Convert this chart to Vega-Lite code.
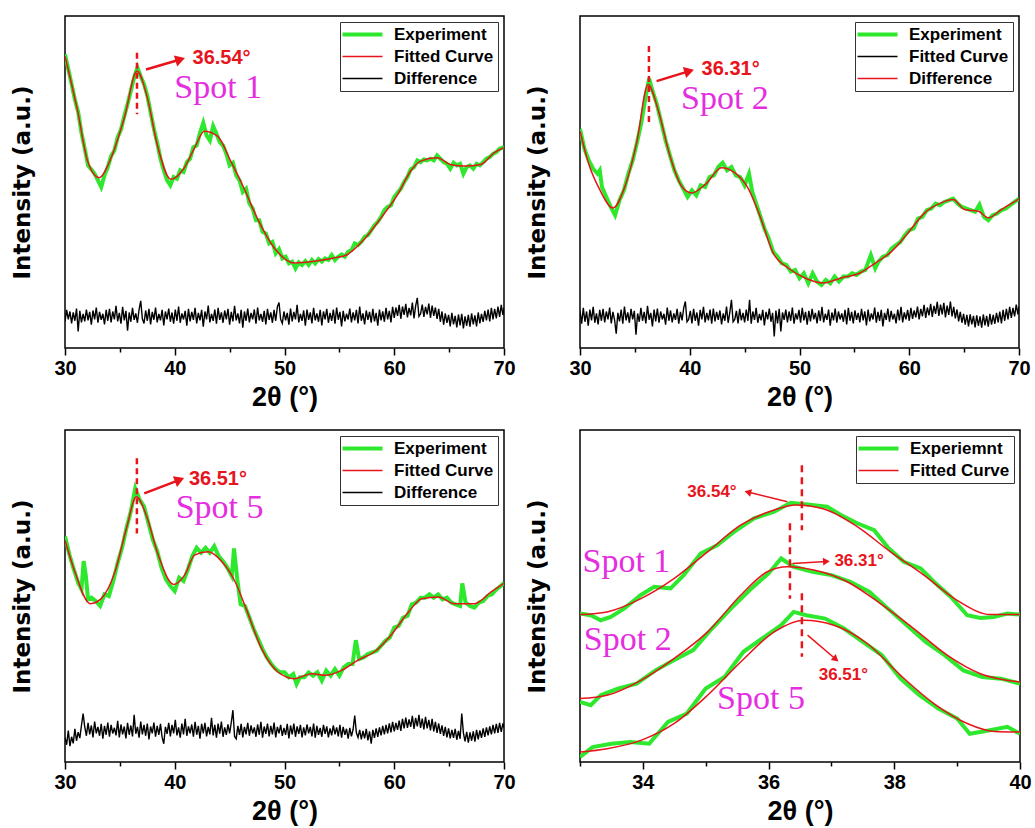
{
"$schema": "https://vega.github.io/schema/vega-lite/v6.json",
"padding": {"left": 10, "top": 15, "right": 2, "bottom": 5},
"background": "white",
"columns": 2,
"spacing": {"row": 18, "column": 9},
"resolve": {"scale": {"color": "independent", "x": "independent", "y": "independent"}, "legend": {"color": "independent"}},
"datasets": {
"g1": [{"x":30.0,"y":88.5},{"x":30.3,"y":84.0},{"x":30.6,"y":79.5},{"x":30.9,"y":74.8},{"x":31.2,"y":71.0},{"x":31.5,"y":64.8},{"x":31.8,"y":60.0},{"x":32.1,"y":55.0},{"x":32.4,"y":53.8},{"x":32.7,"y":52.5},{"x":33.0,"y":50.5},{"x":33.3,"y":48.5},{"x":33.6,"y":52.0},{"x":33.9,"y":54.5},{"x":34.2,"y":57.8},{"x":34.5,"y":59.5},{"x":34.8,"y":63.5},{"x":35.1,"y":65.8},{"x":35.4,"y":69.8},{"x":35.7,"y":73.5},{"x":36.0,"y":77.5},{"x":36.3,"y":81.5},{"x":36.6,"y":84.5},{"x":36.9,"y":81.8},{"x":37.2,"y":79.5},{"x":37.5,"y":76.0},{"x":37.8,"y":71.0},{"x":38.1,"y":66.0},{"x":38.4,"y":61.8},{"x":38.7,"y":57.0},{"x":39.0,"y":53.5},{"x":39.3,"y":50.5},{"x":39.6,"y":49.0},{"x":39.9,"y":51.5},{"x":40.2,"y":51.0},{"x":40.5,"y":53.5},{"x":40.8,"y":53.0},{"x":41.1,"y":56.0},{"x":41.4,"y":57.0},{"x":41.7,"y":60.5},{"x":42.0,"y":61.0},{"x":42.3,"y":64.8},{"x":42.6,"y":67.8},{"x":42.9,"y":64.0},{"x":43.2,"y":62.5},{"x":43.5,"y":66.8},{"x":43.8,"y":64.5},{"x":44.1,"y":62.0},{"x":44.4,"y":61.0},{"x":44.7,"y":58.5},{"x":45.0,"y":55.0},{"x":45.3,"y":55.8},{"x":45.6,"y":52.0},{"x":45.9,"y":50.5},{"x":46.2,"y":47.0},{"x":46.5,"y":48.0},{"x":46.8,"y":43.5},{"x":47.1,"y":42.0},{"x":47.4,"y":38.5},{"x":47.7,"y":38.5},{"x":48.0,"y":35.0},{"x":48.3,"y":34.5},{"x":48.6,"y":31.5},{"x":48.9,"y":32.0},{"x":49.2,"y":28.5},{"x":49.5,"y":29.8},{"x":49.8,"y":27.0},{"x":50.1,"y":27.5},{"x":50.4,"y":25.5},{"x":50.7,"y":26.0},{"x":51.0,"y":24.0},{"x":51.3,"y":25.8},{"x":51.6,"y":25.0},{"x":51.9,"y":26.2},{"x":52.2,"y":25.0},{"x":52.5,"y":26.5},{"x":52.8,"y":25.5},{"x":53.1,"y":26.8},{"x":53.4,"y":26.0},{"x":53.7,"y":27.0},{"x":54.0,"y":26.5},{"x":54.3,"y":28.0},{"x":54.6,"y":26.5},{"x":54.9,"y":27.5},{"x":55.2,"y":28.2},{"x":55.5,"y":27.5},{"x":55.8,"y":29.0},{"x":56.1,"y":29.5},{"x":56.4,"y":31.5},{"x":56.7,"y":31.0},{"x":57.0,"y":32.0},{"x":57.3,"y":33.5},{"x":57.6,"y":34.0},{"x":57.9,"y":35.5},{"x":58.2,"y":37.0},{"x":58.5,"y":38.0},{"x":58.8,"y":39.5},{"x":59.1,"y":41.5},{"x":59.4,"y":42.5},{"x":59.7,"y":43.0},{"x":60.0,"y":45.5},{"x":60.3,"y":46.8},{"x":60.6,"y":48.0},{"x":60.9,"y":50.0},{"x":61.2,"y":51.5},{"x":61.5,"y":53.8},{"x":61.8,"y":54.5},{"x":62.1,"y":56.5},{"x":62.4,"y":56.0},{"x":62.7,"y":56.8},{"x":63.0,"y":56.5},{"x":63.3,"y":57.0},{"x":63.6,"y":56.5},{"x":63.9,"y":58.0},{"x":64.2,"y":57.0},{"x":64.5,"y":56.0},{"x":64.8,"y":55.5},{"x":65.1,"y":54.0},{"x":65.4,"y":55.8},{"x":65.7,"y":55.0},{"x":66.0,"y":55.5},{"x":66.3,"y":52.5},{"x":66.6,"y":54.5},{"x":66.9,"y":55.0},{"x":67.2,"y":54.0},{"x":67.5,"y":55.5},{"x":67.8,"y":55.0},{"x":68.1,"y":56.0},{"x":68.4,"y":57.0},{"x":68.7,"y":57.5},{"x":69.0,"y":58.5},{"x":69.3,"y":59.0},{"x":69.6,"y":60.0},{"x":70.0,"y":60.5}],
"f1": [{"x":30,"y":87.9},{"x":31.15,"y":71.4},{"x":32.06,"y":56.3},{"x":33.1,"y":51.3},{"x":34.2,"y":57.3},{"x":35.4,"y":69.3},{"x":36.56,"y":83.4},{"x":37.5,"y":75.4},{"x":38.4,"y":61.3},{"x":39.65,"y":50.8},{"x":40.87,"y":54.3},{"x":41.8,"y":60.3},{"x":42.7,"y":65.3},{"x":43.9,"y":63.8},{"x":45.1,"y":56.3},{"x":46.3,"y":48.2},{"x":47.5,"y":39.2},{"x":49.06,"y":30.2},{"x":50.9,"y":25.6},{"x":52.7,"y":26.1},{"x":54.5,"y":27.1},{"x":55.7,"y":28.1},{"x":57.25,"y":32.7},{"x":58.8,"y":39.2},{"x":60.3,"y":46.2},{"x":61.5,"y":53.3},{"x":62.4,"y":56.3},{"x":63.9,"y":57.3},{"x":65.1,"y":55.3},{"x":66.4,"y":54.8},{"x":67.9,"y":55.3},{"x":69.1,"y":58.8},{"x":70,"y":60.3}],
"d1": [{"x":30.00,"y":8.0},{"x":30.15,"y":11.5},{"x":30.30,"y":8.6},{"x":30.45,"y":11.0},{"x":30.60,"y":7.4},{"x":30.75,"y":10.7},{"x":30.90,"y":8.2},{"x":31.05,"y":11.9},{"x":31.20,"y":5.0},{"x":31.35,"y":11.2},{"x":31.50,"y":7.7},{"x":31.65,"y":10.3},{"x":31.80,"y":8.0},{"x":31.95,"y":11.6},{"x":32.10,"y":8.3},{"x":32.25,"y":10.9},{"x":32.40,"y":7.0},{"x":32.55,"y":11.3},{"x":32.70,"y":8.6},{"x":32.85,"y":12.2},{"x":33.00,"y":7.6},{"x":33.15,"y":10.9},{"x":33.30,"y":8.5},{"x":33.45,"y":10.3},{"x":33.60,"y":7.1},{"x":33.75,"y":11.5},{"x":33.90,"y":8.2},{"x":34.05,"y":11.8},{"x":34.20,"y":7.7},{"x":34.35,"y":11.0},{"x":34.50,"y":8.6},{"x":34.65,"y":12.7},{"x":34.80,"y":8.0},{"x":34.95,"y":10.6},{"x":35.10,"y":7.3},{"x":35.25,"y":12.4},{"x":35.40,"y":8.3},{"x":35.55,"y":11.2},{"x":35.70,"y":5.2},{"x":35.85,"y":10.7},{"x":36.00,"y":7.9},{"x":36.15,"y":12.1},{"x":36.30,"y":8.5},{"x":36.45,"y":10.4},{"x":36.60,"y":7.6},{"x":36.75,"y":11.6},{"x":36.90,"y":14.2},{"x":37.05,"y":8.8},{"x":37.20,"y":7.4},{"x":37.35,"y":11.3},{"x":37.50,"y":8.2},{"x":37.65,"y":11.8},{"x":37.80,"y":7.1},{"x":37.95,"y":10.9},{"x":38.10,"y":8.5},{"x":38.25,"y":12.2},{"x":38.40,"y":7.7},{"x":38.55,"y":10.3},{"x":38.70,"y":8.3},{"x":38.85,"y":11.5},{"x":39.00,"y":6.8},{"x":39.15,"y":11.0},{"x":39.30,"y":8.6},{"x":39.45,"y":11.9},{"x":39.60,"y":7.9},{"x":39.75,"y":10.7},{"x":39.90,"y":7.3},{"x":40.05,"y":11.6},{"x":40.20,"y":8.2},{"x":40.35,"y":12.5},{"x":40.50,"y":7.6},{"x":40.65,"y":10.4},{"x":40.80,"y":8.6},{"x":40.95,"y":11.2},{"x":41.10,"y":6.7},{"x":41.25,"y":11.8},{"x":41.40,"y":8.0},{"x":41.55,"y":10.9},{"x":41.70,"y":8.5},{"x":41.85,"y":12.1},{"x":42.00,"y":7.4},{"x":42.15,"y":10.6},{"x":42.30,"y":8.3},{"x":42.45,"y":11.5},{"x":42.60,"y":6.4},{"x":42.75,"y":11.0},{"x":42.90,"y":8.6},{"x":43.05,"y":12.8},{"x":43.20,"y":7.7},{"x":43.35,"y":10.3},{"x":43.50,"y":8.2},{"x":43.65,"y":11.6},{"x":43.80,"y":7.3},{"x":43.95,"y":12.1},{"x":44.10,"y":8.5},{"x":44.25,"y":10.7},{"x":44.40,"y":7.6},{"x":44.55,"y":11.3},{"x":44.70,"y":8.6},{"x":44.85,"y":11.8},{"x":45.00,"y":7.0},{"x":45.15,"y":10.9},{"x":45.30,"y":8.0},{"x":45.45,"y":12.7},{"x":45.60,"y":8.3},{"x":45.75,"y":10.4},{"x":45.90,"y":7.4},{"x":46.05,"y":11.5},{"x":46.20,"y":6.1},{"x":46.35,"y":11.0},{"x":46.50,"y":8.2},{"x":46.65,"y":11.9},{"x":46.80,"y":7.7},{"x":46.95,"y":10.6},{"x":47.10,"y":8.6},{"x":47.25,"y":11.6},{"x":47.40,"y":7.3},{"x":47.55,"y":12.2},{"x":47.70,"y":8.3},{"x":47.85,"y":10.3},{"x":48.00,"y":7.9},{"x":48.15,"y":11.2},{"x":48.30,"y":7.1},{"x":48.45,"y":11.8},{"x":48.60,"y":8.5},{"x":48.75,"y":10.7},{"x":48.90,"y":7.6},{"x":49.05,"y":11.5},{"x":49.20,"y":8.2},{"x":49.35,"y":12.4},{"x":49.50,"y":13.7},{"x":49.65,"y":8.6},{"x":49.80,"y":7.4},{"x":49.95,"y":11.0},{"x":50.10,"y":8.3},{"x":50.25,"y":10.6},{"x":50.40,"y":7.0},{"x":50.55,"y":11.9},{"x":50.70,"y":8.0},{"x":50.85,"y":10.9},{"x":51.00,"y":8.6},{"x":51.15,"y":13.0},{"x":51.30,"y":7.7},{"x":51.45,"y":10.3},{"x":51.60,"y":8.2},{"x":51.75,"y":11.3},{"x":51.90,"y":6.7},{"x":52.05,"y":11.6},{"x":52.20,"y":8.5},{"x":52.35,"y":10.7},{"x":52.50,"y":7.4},{"x":52.65,"y":12.1},{"x":52.80,"y":8.3},{"x":52.95,"y":10.4},{"x":53.10,"y":7.9},{"x":53.25,"y":11.5},{"x":53.40,"y":6.8},{"x":53.55,"y":11.0},{"x":53.70,"y":8.6},{"x":53.85,"y":11.8},{"x":54.00,"y":7.6},{"x":54.15,"y":10.6},{"x":54.30,"y":8.2},{"x":54.45,"y":11.6},{"x":54.60,"y":7.3},{"x":54.75,"y":12.2},{"x":54.90,"y":8.5},{"x":55.05,"y":10.9},{"x":55.20,"y":6.5},{"x":55.35,"y":11.2},{"x":55.50,"y":8.0},{"x":55.65,"y":10.3},{"x":55.80,"y":8.6},{"x":55.95,"y":11.9},{"x":56.10,"y":7.7},{"x":56.25,"y":10.7},{"x":56.40,"y":8.3},{"x":56.55,"y":11.5},{"x":56.70,"y":7.4},{"x":56.85,"y":12.5},{"x":57.00,"y":8.2},{"x":57.15,"y":10.4},{"x":57.30,"y":7.1},{"x":57.45,"y":11.3},{"x":57.60,"y":8.5},{"x":57.75,"y":10.9},{"x":57.90,"y":7.6},{"x":58.05,"y":11.8},{"x":58.20,"y":8.0},{"x":58.35,"y":10.6},{"x":58.50,"y":6.7},{"x":58.65,"y":11.6},{"x":58.80,"y":8.3},{"x":58.95,"y":11.0},{"x":59.10,"y":7.9},{"x":59.25,"y":12.1},{"x":59.40,"y":8.6},{"x":59.55,"y":11.2},{"x":59.70,"y":7.7},{"x":59.85,"y":12.4},{"x":60.00,"y":9.1},{"x":60.15,"y":12.2},{"x":60.30,"y":9.7},{"x":60.45,"y":13.0},{"x":60.60,"y":8.8},{"x":60.75,"y":12.5},{"x":60.90,"y":10.0},{"x":61.05,"y":13.3},{"x":61.20,"y":9.2},{"x":61.35,"y":12.1},{"x":61.50,"y":9.8},{"x":61.65,"y":13.7},{"x":61.80,"y":8.9},{"x":61.95,"y":12.7},{"x":62.10,"y":15.1},{"x":62.25,"y":9.5},{"x":62.40,"y":10.3},{"x":62.55,"y":13.1},{"x":62.70,"y":9.4},{"x":62.85,"y":12.4},{"x":63.00,"y":10.1},{"x":63.15,"y":13.4},{"x":63.30,"y":9.1},{"x":63.45,"y":12.8},{"x":63.60,"y":9.7},{"x":63.75,"y":12.2},{"x":63.90,"y":8.8},{"x":64.05,"y":11.8},{"x":64.20,"y":7.9},{"x":64.35,"y":11.0},{"x":64.50,"y":7.0},{"x":64.65,"y":10.4},{"x":64.80,"y":7.6},{"x":64.95,"y":10.0},{"x":65.10,"y":6.5},{"x":65.25,"y":10.6},{"x":65.40,"y":7.1},{"x":65.55,"y":9.7},{"x":65.70,"y":6.2},{"x":65.85,"y":10.1},{"x":66.00,"y":6.8},{"x":66.15,"y":10.3},{"x":66.30,"y":5.9},{"x":66.45,"y":9.5},{"x":66.60,"y":6.7},{"x":66.75,"y":10.0},{"x":66.90,"y":6.4},{"x":67.05,"y":10.4},{"x":67.20,"y":7.1},{"x":67.35,"y":9.8},{"x":67.50,"y":6.5},{"x":67.65,"y":10.7},{"x":67.80,"y":7.4},{"x":67.95,"y":10.3},{"x":68.10,"y":7.9},{"x":68.25,"y":11.2},{"x":68.40,"y":8.3},{"x":68.55,"y":11.6},{"x":68.70,"y":8.0},{"x":68.85,"y":12.1},{"x":69.00,"y":8.6},{"x":69.15,"y":11.8},{"x":69.30,"y":8.9},{"x":69.45,"y":12.5},{"x":69.60,"y":9.4},{"x":69.75,"y":13.0},{"x":69.90,"y":10.0},{"x":70.00,"y":12.1}],
"g2": [{"x":30.0,"y":66.0},{"x":30.4,"y":60.0},{"x":30.8,"y":56.5},{"x":31.2,"y":54.0},{"x":31.6,"y":52.5},{"x":31.8,"y":53.5},{"x":32.0,"y":48.5},{"x":32.4,"y":45.5},{"x":32.8,"y":42.5},{"x":33.2,"y":40.0},{"x":33.6,"y":44.5},{"x":34.0,"y":47.5},{"x":34.4,"y":52.5},{"x":34.8,"y":56.5},{"x":35.2,"y":62.0},{"x":35.6,"y":68.0},{"x":36.0,"y":76.0},{"x":36.3,"y":81.2},{"x":36.6,"y":77.5},{"x":37.0,"y":73.5},{"x":37.4,"y":68.0},{"x":37.8,"y":62.5},{"x":38.2,"y":58.0},{"x":38.6,"y":53.5},{"x":39.0,"y":50.5},{"x":39.4,"y":48.0},{"x":39.8,"y":45.5},{"x":40.2,"y":47.5},{"x":40.6,"y":46.0},{"x":41.0,"y":49.0},{"x":41.4,"y":48.5},{"x":41.8,"y":51.5},{"x":42.2,"y":52.0},{"x":42.6,"y":54.5},{"x":43.0,"y":55.8},{"x":43.4,"y":53.5},{"x":43.8,"y":54.5},{"x":44.2,"y":52.0},{"x":44.6,"y":51.5},{"x":45.0,"y":49.0},{"x":45.4,"y":52.5},{"x":45.7,"y":47.0},{"x":46.0,"y":44.0},{"x":46.4,"y":40.0},{"x":46.8,"y":36.0},{"x":47.2,"y":33.0},{"x":47.6,"y":29.0},{"x":48.0,"y":27.5},{"x":48.4,"y":25.5},{"x":48.8,"y":25.0},{"x":49.2,"y":23.0},{"x":49.6,"y":23.5},{"x":50.0,"y":21.0},{"x":50.4,"y":22.5},{"x":50.8,"y":19.5},{"x":51.2,"y":22.5},{"x":51.6,"y":20.0},{"x":52.0,"y":19.0},{"x":52.4,"y":20.5},{"x":52.8,"y":19.5},{"x":53.2,"y":21.5},{"x":53.6,"y":20.0},{"x":54.0,"y":21.5},{"x":54.4,"y":21.5},{"x":54.8,"y":22.5},{"x":55.2,"y":22.0},{"x":55.6,"y":23.0},{"x":56.0,"y":23.5},{"x":56.5,"y":28.0},{"x":56.9,"y":24.0},{"x":57.2,"y":26.0},{"x":57.6,"y":27.5},{"x":58.0,"y":28.0},{"x":58.4,"y":30.0},{"x":58.8,"y":31.0},{"x":59.2,"y":32.0},{"x":59.6,"y":34.0},{"x":60.0,"y":35.5},{"x":60.4,"y":36.0},{"x":60.8,"y":39.0},{"x":61.2,"y":39.5},{"x":61.6,"y":41.5},{"x":62.0,"y":42.0},{"x":62.4,"y":43.5},{"x":62.8,"y":43.0},{"x":63.2,"y":44.0},{"x":63.6,"y":44.5},{"x":64.0,"y":45.0},{"x":64.4,"y":43.5},{"x":64.8,"y":42.5},{"x":65.2,"y":42.0},{"x":65.6,"y":41.5},{"x":66.0,"y":41.0},{"x":66.4,"y":43.2},{"x":66.8,"y":39.5},{"x":67.2,"y":38.5},{"x":67.6,"y":40.0},{"x":68.0,"y":40.5},{"x":68.4,"y":41.5},{"x":68.8,"y":42.0},{"x":69.2,"y":43.0},{"x":69.6,"y":44.0},{"x":70.0,"y":45.0}],
"f2": [{"x":30,"y":65.3},{"x":30.76,"y":55.8},{"x":31.8,"y":47.7},{"x":33.0,"y":42.2},{"x":34.1,"y":48.7},{"x":35.16,"y":61.8},{"x":36.2,"y":79.4},{"x":37.1,"y":71.9},{"x":38.2,"y":57.8},{"x":39.26,"y":48.7},{"x":40.17,"y":46.7},{"x":41.4,"y":49.2},{"x":42.9,"y":54.3},{"x":44.1,"y":52.8},{"x":45.3,"y":48.2},{"x":46.4,"y":39.7},{"x":47.6,"y":28.6},{"x":48.97,"y":24.1},{"x":50.5,"y":21.1},{"x":52.15,"y":19.6},{"x":53.8,"y":21.1},{"x":55.5,"y":22.6},{"x":56.9,"y":25.6},{"x":58.4,"y":29.1},{"x":59.9,"y":34.7},{"x":61.4,"y":40.7},{"x":62.9,"y":43.7},{"x":64.0,"y":44.7},{"x":65.05,"y":41.7},{"x":66.3,"y":41.2},{"x":67.2,"y":39.2},{"x":68.4,"y":41.7},{"x":69.9,"y":44.7},{"x":70,"y":44.9}],
"d2": [{"x":30.00,"y":11.2},{"x":30.15,"y":7.3},{"x":30.30,"y":12.1},{"x":30.45,"y":7.9},{"x":30.60,"y":11.0},{"x":30.75,"y":6.7},{"x":30.90,"y":11.6},{"x":31.05,"y":8.3},{"x":31.20,"y":12.4},{"x":31.35,"y":7.6},{"x":31.50,"y":10.4},{"x":31.65,"y":7.1},{"x":31.80,"y":11.5},{"x":31.95,"y":8.2},{"x":32.10,"y":11.8},{"x":32.25,"y":7.7},{"x":32.40,"y":11.0},{"x":32.55,"y":8.6},{"x":32.70,"y":12.2},{"x":32.85,"y":7.4},{"x":33.00,"y":10.9},{"x":33.15,"y":8.5},{"x":33.30,"y":4.3},{"x":33.45,"y":10.6},{"x":33.60,"y":8.0},{"x":33.75,"y":11.6},{"x":33.90,"y":7.3},{"x":34.05,"y":12.5},{"x":34.20,"y":8.3},{"x":34.35,"y":10.7},{"x":34.50,"y":7.6},{"x":34.65,"y":11.8},{"x":34.80,"y":8.6},{"x":34.95,"y":11.2},{"x":35.10,"y":4.0},{"x":35.25,"y":10.4},{"x":35.40,"y":7.9},{"x":35.55,"y":12.1},{"x":35.70,"y":8.2},{"x":35.85,"y":10.9},{"x":36.00,"y":7.4},{"x":36.15,"y":12.7},{"x":36.30,"y":8.5},{"x":36.45,"y":10.6},{"x":36.60,"y":6.5},{"x":36.75,"y":11.6},{"x":36.90,"y":8.0},{"x":37.05,"y":11.9},{"x":37.20,"y":7.6},{"x":37.35,"y":11.0},{"x":37.50,"y":8.6},{"x":37.65,"y":10.3},{"x":37.80,"y":7.0},{"x":37.95,"y":12.2},{"x":38.10,"y":8.2},{"x":38.25,"y":11.3},{"x":38.40,"y":7.7},{"x":38.55,"y":10.4},{"x":38.70,"y":8.5},{"x":38.85,"y":11.8},{"x":39.00,"y":7.3},{"x":39.15,"y":10.9},{"x":39.30,"y":8.3},{"x":39.45,"y":12.1},{"x":39.60,"y":14.0},{"x":39.75,"y":7.9},{"x":39.90,"y":8.6},{"x":40.05,"y":11.2},{"x":40.20,"y":7.4},{"x":40.35,"y":11.8},{"x":40.50,"y":8.2},{"x":40.65,"y":10.7},{"x":40.80,"y":6.7},{"x":40.95,"y":11.5},{"x":41.10,"y":8.6},{"x":41.25,"y":12.4},{"x":41.40,"y":7.7},{"x":41.55,"y":10.6},{"x":41.70,"y":8.3},{"x":41.85,"y":11.6},{"x":42.00,"y":7.3},{"x":42.15,"y":11.9},{"x":42.30,"y":8.0},{"x":42.45,"y":10.9},{"x":42.60,"y":8.5},{"x":42.75,"y":11.3},{"x":42.90,"y":7.1},{"x":43.05,"y":10.4},{"x":43.20,"y":8.2},{"x":43.35,"y":12.5},{"x":43.50,"y":7.6},{"x":43.65,"y":10.7},{"x":43.80,"y":14.5},{"x":43.95,"y":7.9},{"x":44.10,"y":8.6},{"x":44.25,"y":11.2},{"x":44.40,"y":7.4},{"x":44.55,"y":11.8},{"x":44.70,"y":8.3},{"x":44.85,"y":10.6},{"x":45.00,"y":7.7},{"x":45.15,"y":11.6},{"x":45.30,"y":8.2},{"x":45.45,"y":14.5},{"x":45.60,"y":7.3},{"x":45.75,"y":11.0},{"x":45.90,"y":8.5},{"x":46.05,"y":12.1},{"x":46.20,"y":7.6},{"x":46.35,"y":10.3},{"x":46.50,"y":8.3},{"x":46.65,"y":11.5},{"x":46.80,"y":6.8},{"x":46.95,"y":10.9},{"x":47.10,"y":8.6},{"x":47.25,"y":11.9},{"x":47.40,"y":7.9},{"x":47.55,"y":10.6},{"x":47.70,"y":3.5},{"x":47.85,"y":11.3},{"x":48.00,"y":7.4},{"x":48.15,"y":11.8},{"x":48.30,"y":5.0},{"x":48.45,"y":10.7},{"x":48.60,"y":8.5},{"x":48.75,"y":11.6},{"x":48.90,"y":7.7},{"x":49.05,"y":11.0},{"x":49.20,"y":8.2},{"x":49.35,"y":12.2},{"x":49.50,"y":7.3},{"x":49.65,"y":10.4},{"x":49.80,"y":8.6},{"x":49.95,"y":11.5},{"x":50.10,"y":7.6},{"x":50.25,"y":12.1},{"x":50.40,"y":8.3},{"x":50.55,"y":10.9},{"x":50.70,"y":7.0},{"x":50.85,"y":11.2},{"x":51.00,"y":8.0},{"x":51.15,"y":11.8},{"x":51.30,"y":8.6},{"x":51.45,"y":10.6},{"x":51.60,"y":7.4},{"x":51.75,"y":11.3},{"x":51.90,"y":8.2},{"x":52.05,"y":12.4},{"x":52.20,"y":7.7},{"x":52.35,"y":10.3},{"x":52.50,"y":8.5},{"x":52.65,"y":11.6},{"x":52.80,"y":6.7},{"x":52.95,"y":10.7},{"x":53.10,"y":8.3},{"x":53.25,"y":11.9},{"x":53.40,"y":7.6},{"x":53.55,"y":11.0},{"x":53.70,"y":8.6},{"x":53.85,"y":10.4},{"x":54.00,"y":7.9},{"x":54.15,"y":11.5},{"x":54.30,"y":7.1},{"x":54.45,"y":12.1},{"x":54.60,"y":8.2},{"x":54.75,"y":10.9},{"x":54.90,"y":7.4},{"x":55.05,"y":11.3},{"x":55.20,"y":8.5},{"x":55.35,"y":10.6},{"x":55.50,"y":7.7},{"x":55.65,"y":11.8},{"x":55.80,"y":8.3},{"x":55.95,"y":11.0},{"x":56.10,"y":6.8},{"x":56.25,"y":11.6},{"x":56.40,"y":8.0},{"x":56.55,"y":10.4},{"x":56.70,"y":8.6},{"x":56.85,"y":12.2},{"x":57.00,"y":7.6},{"x":57.15,"y":10.9},{"x":57.30,"y":8.2},{"x":57.45,"y":11.5},{"x":57.60,"y":6.5},{"x":57.75,"y":10.6},{"x":57.90,"y":8.5},{"x":58.05,"y":11.9},{"x":58.20,"y":7.9},{"x":58.35,"y":11.2},{"x":58.50,"y":8.6},{"x":58.65,"y":10.3},{"x":58.80,"y":7.4},{"x":58.95,"y":11.6},{"x":59.10,"y":8.3},{"x":59.25,"y":12.4},{"x":59.40,"y":7.7},{"x":59.55,"y":10.7},{"x":59.70,"y":8.6},{"x":59.85,"y":11.5},{"x":60.00,"y":8.2},{"x":60.15,"y":12.1},{"x":60.30,"y":8.8},{"x":60.45,"y":11.3},{"x":60.60,"y":9.2},{"x":60.75,"y":12.5},{"x":60.90,"y":8.6},{"x":61.05,"y":11.8},{"x":61.20,"y":9.5},{"x":61.35,"y":13.0},{"x":61.50,"y":9.1},{"x":61.65,"y":12.2},{"x":61.80,"y":9.8},{"x":61.95,"y":13.3},{"x":62.10,"y":9.4},{"x":62.25,"y":12.7},{"x":62.40,"y":10.3},{"x":62.55,"y":13.9},{"x":62.70,"y":9.7},{"x":62.85,"y":13.1},{"x":63.00,"y":10.1},{"x":63.15,"y":13.6},{"x":63.30,"y":9.2},{"x":63.45,"y":12.8},{"x":63.60,"y":10.0},{"x":63.75,"y":14.0},{"x":63.90,"y":9.5},{"x":64.05,"y":12.4},{"x":64.20,"y":8.9},{"x":64.35,"y":11.6},{"x":64.50,"y":8.0},{"x":64.65,"y":10.9},{"x":64.80,"y":7.6},{"x":64.95,"y":10.3},{"x":65.10,"y":7.0},{"x":65.25,"y":10.0},{"x":65.40,"y":6.5},{"x":65.55,"y":10.1},{"x":65.70,"y":7.1},{"x":65.85,"y":9.7},{"x":66.00,"y":6.2},{"x":66.15,"y":9.8},{"x":66.30,"y":6.7},{"x":66.45,"y":9.5},{"x":66.60,"y":6.1},{"x":66.75,"y":10.1},{"x":66.90,"y":6.8},{"x":67.05,"y":9.7},{"x":67.20,"y":6.4},{"x":67.35,"y":10.3},{"x":67.50,"y":7.0},{"x":67.65,"y":10.0},{"x":67.80,"y":7.3},{"x":67.95,"y":10.6},{"x":68.10,"y":7.7},{"x":68.25,"y":11.0},{"x":68.40,"y":7.4},{"x":68.55,"y":11.5},{"x":68.70,"y":8.2},{"x":68.85,"y":11.8},{"x":69.00,"y":8.6},{"x":69.15,"y":12.4},{"x":69.30,"y":9.1},{"x":69.45,"y":12.1},{"x":69.60,"y":9.5},{"x":69.75,"y":13.1},{"x":69.90,"y":10.1},{"x":70.00,"y":12.5}],
"g3": [{"x":30.0,"y":68.0},{"x":30.4,"y":62.5},{"x":30.8,"y":58.0},{"x":31.2,"y":54.0},{"x":31.5,"y":52.0},{"x":31.7,"y":60.5},{"x":31.9,"y":56.0},{"x":32.1,"y":49.0},{"x":32.4,"y":49.5},{"x":32.8,"y":48.5},{"x":33.2,"y":47.0},{"x":33.6,"y":50.5},{"x":34.0,"y":50.0},{"x":34.4,"y":54.5},{"x":34.8,"y":60.0},{"x":35.2,"y":64.5},{"x":35.6,"y":70.5},{"x":36.0,"y":75.5},{"x":36.4,"y":82.4},{"x":36.8,"y":79.0},{"x":37.2,"y":77.0},{"x":37.6,"y":72.0},{"x":38.0,"y":67.0},{"x":38.4,"y":63.5},{"x":38.8,"y":58.5},{"x":39.2,"y":55.0},{"x":39.6,"y":53.0},{"x":40.0,"y":51.5},{"x":40.4,"y":55.5},{"x":40.8,"y":54.5},{"x":41.2,"y":58.0},{"x":41.6,"y":62.0},{"x":42.0,"y":64.5},{"x":42.4,"y":63.0},{"x":42.8,"y":64.5},{"x":43.2,"y":63.0},{"x":43.6,"y":65.0},{"x":44.0,"y":62.0},{"x":44.4,"y":60.5},{"x":44.8,"y":58.5},{"x":45.2,"y":56.0},{"x":45.4,"y":64.3},{"x":45.7,"y":55.0},{"x":46.0,"y":47.5},{"x":46.4,"y":47.0},{"x":46.8,"y":43.5},{"x":47.2,"y":40.0},{"x":47.6,"y":37.0},{"x":48.0,"y":34.0},{"x":48.4,"y":31.5},{"x":48.8,"y":29.5},{"x":49.2,"y":28.0},{"x":49.6,"y":27.0},{"x":50.0,"y":27.0},{"x":50.4,"y":25.5},{"x":50.8,"y":26.5},{"x":51.1,"y":23.5},{"x":51.4,"y":25.5},{"x":51.8,"y":25.5},{"x":52.2,"y":27.0},{"x":52.6,"y":26.0},{"x":53.0,"y":27.0},{"x":53.4,"y":24.5},{"x":53.8,"y":27.5},{"x":54.2,"y":26.0},{"x":54.6,"y":28.0},{"x":55.0,"y":26.0},{"x":55.4,"y":28.5},{"x":55.8,"y":29.5},{"x":56.2,"y":29.5},{"x":56.5,"y":36.7},{"x":56.8,"y":31.0},{"x":57.2,"y":31.5},{"x":57.6,"y":32.5},{"x":58.0,"y":33.0},{"x":58.4,"y":33.5},{"x":58.8,"y":35.0},{"x":59.2,"y":36.5},{"x":59.6,"y":37.5},{"x":60.0,"y":40.5},{"x":60.4,"y":41.0},{"x":60.8,"y":43.5},{"x":61.2,"y":44.0},{"x":61.6,"y":47.5},{"x":62.0,"y":48.0},{"x":62.4,"y":49.5},{"x":62.8,"y":49.5},{"x":63.2,"y":50.5},{"x":63.6,"y":49.5},{"x":64.0,"y":50.5},{"x":64.4,"y":49.0},{"x":64.8,"y":49.5},{"x":65.2,"y":48.0},{"x":65.6,"y":47.5},{"x":66.0,"y":47.0},{"x":66.2,"y":53.8},{"x":66.5,"y":48.0},{"x":66.9,"y":47.0},{"x":67.3,"y":46.5},{"x":67.7,"y":48.0},{"x":68.1,"y":48.5},{"x":68.5,"y":50.0},{"x":68.9,"y":50.5},{"x":69.3,"y":52.0},{"x":69.7,"y":53.0},{"x":70.0,"y":54.0}],
"f3": [{"x":30,"y":66.8},{"x":30.9,"y":57.3},{"x":32.3,"y":47.7},{"x":33.3,"y":49.2},{"x":34.55,"y":57.3},{"x":35.6,"y":70.4},{"x":36.5,"y":79.9},{"x":37.4,"y":74.4},{"x":38.5,"y":62.3},{"x":39.9,"y":53.5},{"x":40.9,"y":56.3},{"x":41.8,"y":62.3},{"x":43.05,"y":63.3},{"x":44.3,"y":60.3},{"x":45.5,"y":54.3},{"x":46.5,"y":46.2},{"x":47.9,"y":34.2},{"x":49.4,"y":27.1},{"x":50.9,"y":25.1},{"x":52.5,"y":26.6},{"x":53.7,"y":26.1},{"x":55.2,"y":27.6},{"x":56.7,"y":30.7},{"x":58.2,"y":33.2},{"x":59.7,"y":38.2},{"x":61.3,"y":45.2},{"x":62.5,"y":49.2},{"x":64.0,"y":49.7},{"x":65.5,"y":47.7},{"x":67.3,"y":47.7},{"x":68.85,"y":51.3},{"x":70,"y":53.8}],
"d3": [{"x":30.00,"y":7.4},{"x":30.15,"y":5.2},{"x":30.30,"y":9.5},{"x":30.45,"y":4.8},{"x":30.60,"y":7.6},{"x":30.75,"y":5.6},{"x":30.90,"y":10.0},{"x":31.05,"y":6.4},{"x":31.20,"y":9.0},{"x":31.35,"y":7.2},{"x":31.50,"y":11.0},{"x":31.65,"y":14.6},{"x":31.80,"y":10.6},{"x":31.95,"y":7.9},{"x":32.10,"y":11.8},{"x":32.25,"y":8.3},{"x":32.40,"y":11.0},{"x":32.55,"y":7.4},{"x":32.70,"y":12.2},{"x":32.85,"y":8.6},{"x":33.00,"y":10.6},{"x":33.15,"y":7.9},{"x":33.30,"y":11.5},{"x":33.45,"y":7.0},{"x":33.60,"y":10.9},{"x":33.75,"y":8.2},{"x":33.90,"y":11.9},{"x":34.05,"y":7.6},{"x":34.20,"y":11.2},{"x":34.35,"y":8.6},{"x":34.50,"y":10.3},{"x":34.65,"y":8.0},{"x":34.80,"y":12.4},{"x":34.95,"y":7.4},{"x":35.10,"y":11.3},{"x":35.25,"y":8.3},{"x":35.40,"y":10.7},{"x":35.55,"y":7.1},{"x":35.70,"y":11.8},{"x":35.85,"y":8.2},{"x":36.00,"y":11.0},{"x":36.15,"y":7.7},{"x":36.30,"y":14.2},{"x":36.45,"y":8.5},{"x":36.60,"y":10.6},{"x":36.75,"y":7.3},{"x":36.90,"y":12.2},{"x":37.05,"y":8.3},{"x":37.20,"y":11.2},{"x":37.35,"y":7.9},{"x":37.50,"y":11.6},{"x":37.65,"y":6.8},{"x":37.80,"y":10.7},{"x":37.95,"y":8.6},{"x":38.10,"y":11.9},{"x":38.25,"y":7.6},{"x":38.40,"y":10.9},{"x":38.55,"y":8.2},{"x":38.70,"y":11.5},{"x":38.85,"y":7.4},{"x":39.00,"y":5.5},{"x":39.15,"y":10.6},{"x":39.30,"y":8.5},{"x":39.45,"y":11.8},{"x":39.60,"y":7.7},{"x":39.75,"y":11.2},{"x":39.90,"y":8.6},{"x":40.05,"y":12.7},{"x":40.20,"y":8.0},{"x":40.35,"y":10.4},{"x":40.50,"y":7.3},{"x":40.65,"y":11.6},{"x":40.80,"y":8.3},{"x":40.95,"y":13.0},{"x":41.10,"y":7.9},{"x":41.25,"y":10.7},{"x":41.40,"y":8.6},{"x":41.55,"y":11.3},{"x":41.70,"y":7.6},{"x":41.85,"y":12.1},{"x":42.00,"y":8.2},{"x":42.15,"y":10.9},{"x":42.30,"y":7.0},{"x":42.45,"y":11.5},{"x":42.60,"y":8.6},{"x":42.75,"y":11.8},{"x":42.90,"y":7.7},{"x":43.05,"y":10.6},{"x":43.20,"y":8.3},{"x":43.35,"y":13.3},{"x":43.50,"y":8.0},{"x":43.65,"y":11.2},{"x":43.80,"y":7.3},{"x":43.95,"y":11.6},{"x":44.10,"y":8.5},{"x":44.25,"y":12.2},{"x":44.40,"y":7.6},{"x":44.55,"y":10.4},{"x":44.70,"y":8.2},{"x":44.85,"y":11.3},{"x":45.00,"y":8.6},{"x":45.15,"y":11.9},{"x":45.30,"y":15.6},{"x":45.45,"y":7.7},{"x":45.60,"y":7.0},{"x":45.75,"y":10.9},{"x":45.90,"y":8.2},{"x":46.05,"y":11.5},{"x":46.20,"y":7.4},{"x":46.35,"y":10.6},{"x":46.50,"y":8.3},{"x":46.65,"y":11.8},{"x":46.80,"y":7.9},{"x":46.95,"y":11.0},{"x":47.10,"y":8.6},{"x":47.25,"y":10.4},{"x":47.40,"y":7.6},{"x":47.55,"y":11.3},{"x":47.70,"y":8.2},{"x":47.85,"y":12.1},{"x":48.00,"y":7.3},{"x":48.15,"y":10.7},{"x":48.30,"y":8.5},{"x":48.45,"y":11.6},{"x":48.60,"y":7.7},{"x":48.75,"y":10.9},{"x":48.90,"y":8.3},{"x":49.05,"y":11.9},{"x":49.20,"y":7.4},{"x":49.35,"y":10.6},{"x":49.50,"y":8.6},{"x":49.65,"y":11.2},{"x":49.80,"y":7.9},{"x":49.95,"y":10.3},{"x":50.10,"y":8.2},{"x":50.25,"y":11.5},{"x":50.40,"y":7.1},{"x":50.55,"y":11.0},{"x":50.70,"y":8.3},{"x":50.85,"y":11.6},{"x":51.00,"y":7.6},{"x":51.15,"y":10.7},{"x":51.30,"y":8.5},{"x":51.45,"y":11.2},{"x":51.60,"y":7.4},{"x":51.75,"y":10.4},{"x":51.90,"y":8.0},{"x":52.05,"y":11.3},{"x":52.20,"y":8.6},{"x":52.35,"y":10.6},{"x":52.50,"y":7.7},{"x":52.65,"y":11.6},{"x":52.80,"y":7.3},{"x":52.95,"y":10.9},{"x":53.10,"y":8.2},{"x":53.25,"y":10.3},{"x":53.40,"y":7.6},{"x":53.55,"y":11.2},{"x":53.70,"y":8.5},{"x":53.85,"y":10.7},{"x":54.00,"y":7.4},{"x":54.15,"y":10.1},{"x":54.30,"y":8.0},{"x":54.45,"y":11.0},{"x":54.60,"y":8.3},{"x":54.75,"y":10.4},{"x":54.90,"y":7.7},{"x":55.05,"y":11.2},{"x":55.20,"y":7.3},{"x":55.35,"y":10.6},{"x":55.50,"y":8.2},{"x":55.65,"y":10.0},{"x":55.80,"y":7.0},{"x":55.95,"y":10.3},{"x":56.10,"y":7.7},{"x":56.25,"y":9.8},{"x":56.40,"y":14.0},{"x":56.55,"y":8.8},{"x":56.70,"y":7.4},{"x":56.85,"y":9.7},{"x":57.00,"y":6.8},{"x":57.15,"y":9.4},{"x":57.30,"y":7.1},{"x":57.45,"y":10.0},{"x":57.60,"y":6.5},{"x":57.75,"y":9.2},{"x":57.90,"y":5.5},{"x":58.05,"y":9.7},{"x":58.20,"y":7.3},{"x":58.35,"y":10.1},{"x":58.50,"y":7.6},{"x":58.65,"y":10.4},{"x":58.80,"y":8.0},{"x":58.95,"y":10.9},{"x":59.10,"y":8.3},{"x":59.25,"y":11.2},{"x":59.40,"y":8.6},{"x":59.55,"y":11.6},{"x":59.70,"y":8.9},{"x":59.85,"y":12.1},{"x":60.00,"y":9.2},{"x":60.15,"y":11.8},{"x":60.30,"y":9.7},{"x":60.45,"y":12.5},{"x":60.60,"y":9.4},{"x":60.75,"y":13.0},{"x":60.90,"y":10.1},{"x":61.05,"y":13.4},{"x":61.20,"y":10.3},{"x":61.35,"y":12.8},{"x":61.50,"y":10.6},{"x":61.65,"y":13.9},{"x":61.80,"y":10.0},{"x":61.95,"y":13.3},{"x":62.10,"y":10.7},{"x":62.25,"y":14.2},{"x":62.40,"y":10.3},{"x":62.55,"y":13.1},{"x":62.70,"y":9.8},{"x":62.85,"y":13.6},{"x":63.00,"y":10.1},{"x":63.15,"y":12.7},{"x":63.30,"y":9.5},{"x":63.45,"y":13.0},{"x":63.60,"y":9.2},{"x":63.75,"y":12.1},{"x":63.90,"y":8.8},{"x":64.05,"y":11.6},{"x":64.20,"y":8.5},{"x":64.35,"y":11.0},{"x":64.50,"y":7.9},{"x":64.65,"y":10.6},{"x":64.80,"y":7.4},{"x":64.95,"y":10.1},{"x":65.10,"y":7.1},{"x":65.25,"y":9.7},{"x":65.40,"y":7.3},{"x":65.55,"y":10.0},{"x":65.70,"y":6.7},{"x":65.85,"y":9.4},{"x":66.00,"y":7.0},{"x":66.15,"y":14.6},{"x":66.30,"y":8.8},{"x":66.45,"y":6.2},{"x":66.60,"y":9.1},{"x":66.75,"y":5.8},{"x":66.90,"y":8.9},{"x":67.05,"y":6.4},{"x":67.20,"y":9.2},{"x":67.35,"y":6.1},{"x":67.50,"y":9.7},{"x":67.65,"y":6.8},{"x":67.80,"y":9.5},{"x":67.95,"y":7.3},{"x":68.10,"y":10.1},{"x":68.25,"y":7.6},{"x":68.40,"y":10.4},{"x":68.55,"y":8.0},{"x":68.70,"y":10.7},{"x":68.85,"y":8.3},{"x":69.00,"y":11.2},{"x":69.15,"y":8.6},{"x":69.30,"y":11.5},{"x":69.45,"y":8.8},{"x":69.60,"y":11.8},{"x":69.75,"y":9.1},{"x":69.90,"y":11.6},{"x":70.00,"y":10.4}],
"g4": [{"s":"Spot 1","x":33.0,"y":44.7},{"s":"Spot 1","x":33.17,"y":44.2},{"s":"Spot 1","x":33.33,"y":42.7},{"s":"Spot 1","x":33.49,"y":43.7},{"s":"Spot 1","x":33.7,"y":46.2},{"s":"Spot 1","x":33.97,"y":50.3},{"s":"Spot 1","x":34.18,"y":52.8},{"s":"Spot 1","x":34.44,"y":52.3},{"s":"Spot 1","x":34.65,"y":56.3},{"s":"Spot 1","x":34.92,"y":62.8},{"s":"Spot 1","x":35.18,"y":65.3},{"s":"Spot 1","x":35.45,"y":69.3},{"s":"Spot 1","x":35.77,"y":73.4},{"s":"Spot 1","x":36.09,"y":75.4},{"s":"Spot 1","x":36.35,"y":78.1},{"s":"Spot 1","x":36.62,"y":77.6},{"s":"Spot 1","x":36.93,"y":76.9},{"s":"Spot 1","x":37.15,"y":74.4},{"s":"Spot 1","x":37.41,"y":71.9},{"s":"Spot 1","x":37.68,"y":69.8},{"s":"Spot 1","x":37.89,"y":64.8},{"s":"Spot 1","x":38.15,"y":60.3},{"s":"Spot 1","x":38.42,"y":58.3},{"s":"Spot 1","x":38.63,"y":54.3},{"s":"Spot 1","x":38.9,"y":49.7},{"s":"Spot 1","x":39.16,"y":44.2},{"s":"Spot 1","x":39.37,"y":43.4},{"s":"Spot 1","x":39.58,"y":43.7},{"s":"Spot 1","x":39.8,"y":44.7},{"s":"Spot 1","x":40.0,"y":44.4},
{"s":"Spot 2","x":33.0,"y":18.1},{"s":"Spot 2","x":33.17,"y":17.1},{"s":"Spot 2","x":33.33,"y":20.1},{"s":"Spot 2","x":33.6,"y":22.1},{"s":"Spot 2","x":33.9,"y":23.6},{"s":"Spot 2","x":34.2,"y":27.6},{"s":"Spot 2","x":34.5,"y":30.7},{"s":"Spot 2","x":34.8,"y":33.7},{"s":"Spot 2","x":35.1,"y":40.2},{"s":"Spot 2","x":35.4,"y":46.2},{"s":"Spot 2","x":35.7,"y":51.8},{"s":"Spot 2","x":36.0,"y":56.8},{"s":"Spot 2","x":36.2,"y":61.3},{"s":"Spot 2","x":36.4,"y":58.8},{"s":"Spot 2","x":36.7,"y":57.3},{"s":"Spot 2","x":37.0,"y":56.3},{"s":"Spot 2","x":37.3,"y":54.3},{"s":"Spot 2","x":37.6,"y":51.3},{"s":"Spot 2","x":37.9,"y":46.2},{"s":"Spot 2","x":38.2,"y":41.2},{"s":"Spot 2","x":38.5,"y":36.2},{"s":"Spot 2","x":38.8,"y":32.2},{"s":"Spot 2","x":39.1,"y":27.6},{"s":"Spot 2","x":39.4,"y":25.6},{"s":"Spot 2","x":39.7,"y":25.1},{"s":"Spot 2","x":40.0,"y":23.6},
{"s":"Spot 5","x":33.0,"y":1.5},{"s":"Spot 5","x":33.2,"y":4.5},{"s":"Spot 5","x":33.5,"y":5.5},{"s":"Spot 5","x":33.8,"y":6.0},{"s":"Spot 5","x":34.1,"y":5.5},{"s":"Spot 5","x":34.4,"y":12.1},{"s":"Spot 5","x":34.7,"y":14.6},{"s":"Spot 5","x":35.0,"y":22.1},{"s":"Spot 5","x":35.3,"y":25.6},{"s":"Spot 5","x":35.6,"y":33.2},{"s":"Spot 5","x":35.9,"y":37.2},{"s":"Spot 5","x":36.2,"y":41.2},{"s":"Spot 5","x":36.4,"y":45.2},{"s":"Spot 5","x":36.6,"y":44.2},{"s":"Spot 5","x":36.9,"y":43.2},{"s":"Spot 5","x":37.2,"y":40.2},{"s":"Spot 5","x":37.5,"y":36.2},{"s":"Spot 5","x":37.8,"y":32.2},{"s":"Spot 5","x":38.1,"y":25.1},{"s":"Spot 5","x":38.4,"y":20.1},{"s":"Spot 5","x":38.7,"y":16.1},{"s":"Spot 5","x":39.0,"y":13.1},{"s":"Spot 5","x":39.2,"y":8.5},{"s":"Spot 5","x":39.5,"y":9.5},{"s":"Spot 5","x":39.8,"y":10.6},{"s":"Spot 5","x":40.0,"y":8.5}],
"f4": [{"s":"Spot 1","x":33,"y":44.4},{"s":"Spot 1","x":33.43,"y":45.2},{"s":"Spot 1","x":33.97,"y":49.2},{"s":"Spot 1","x":34.5,"y":55.3},{"s":"Spot 1","x":35.03,"y":63.3},{"s":"Spot 1","x":35.56,"y":71.4},{"s":"Spot 1","x":36.09,"y":75.9},{"s":"Spot 1","x":36.43,"y":77.4},{"s":"Spot 1","x":36.88,"y":76.2},{"s":"Spot 1","x":37.41,"y":70.9},{"s":"Spot 1","x":37.94,"y":63.3},{"s":"Spot 1","x":38.47,"y":56.3},{"s":"Spot 1","x":39.0,"y":48.7},{"s":"Spot 1","x":39.53,"y":44.4},{"s":"Spot 1","x":40,"y":44.4},
{"s":"Spot 2","x":33,"y":19.1},{"s":"Spot 2","x":33.43,"y":20.1},{"s":"Spot 2","x":33.97,"y":24.6},{"s":"Spot 2","x":34.5,"y":31.2},{"s":"Spot 2","x":35.03,"y":39.2},{"s":"Spot 2","x":35.56,"y":50.3},{"s":"Spot 2","x":35.98,"y":57.3},{"s":"Spot 2","x":36.3,"y":58.8},{"s":"Spot 2","x":36.72,"y":57.8},{"s":"Spot 2","x":37.25,"y":54.3},{"s":"Spot 2","x":37.78,"y":47.7},{"s":"Spot 2","x":38.31,"y":40.2},{"s":"Spot 2","x":38.84,"y":32.2},{"s":"Spot 2","x":39.37,"y":26.6},{"s":"Spot 2","x":40,"y":24.1},
{"s":"Spot 5","x":33,"y":3.0},{"s":"Spot 5","x":33.43,"y":4.0},{"s":"Spot 5","x":33.97,"y":6.5},{"s":"Spot 5","x":34.5,"y":11.6},{"s":"Spot 5","x":35.03,"y":20.1},{"s":"Spot 5","x":35.56,"y":30.2},{"s":"Spot 5","x":36.09,"y":39.2},{"s":"Spot 5","x":36.56,"y":42.7},{"s":"Spot 5","x":37.04,"y":41.2},{"s":"Spot 5","x":37.57,"y":35.7},{"s":"Spot 5","x":38.1,"y":26.1},{"s":"Spot 5","x":38.63,"y":17.6},{"s":"Spot 5","x":39.16,"y":11.6},{"s":"Spot 5","x":39.59,"y":9.2},{"s":"Spot 5","x":40,"y":9.0}]
},
"concat": [
{
"width": 439, "height": 332,
"encoding": {
 "x": {"field": "x", "type": "quantitative", "scale": {"domain": [30, 70], "nice": false}, "axis": {"title": "2θ (°)", "values": [30,35,40,45,50,55,60,65,70], "labelExpr": "datum.value % 10 === 0 ? datum.label : ''", "tickSize": {"condition": {"test": "datum.value % 10 === 0", "value": 7}, "value": 4}}},
 "y": {"field": "y", "type": "quantitative", "scale": {"domain": [0, 100], "nice": false}, "axis": {"title": "Intensity (a.u.)"}}
},
"layer": [
 {"data": {"name": "g1"}, "mark": {"type": "line", "strokeWidth": 4, "clip": true}, "encoding": {"color": {"datum": "Experiment", "type": "nominal", "scale": {"domain": ["Experiment", "Fitted Curve", "Difference"], "range": ["#2ee82e", "#e8141c", "#000000"]}, "legend": {"title": null, "encode": {"symbols": {"update": {"strokeWidth": {"signal": "datum.value === 'Experiment' ? 4 : 1.5"}}}}}}}},
 {"data": {"name": "f1"}, "mark": {"type": "line", "strokeWidth": 1.5, "interpolate": "monotone", "clip": true}, "encoding": {"color": {"datum": "Fitted Curve", "type": "nominal"}}},
 {"data": {"name": "d1"}, "mark": {"type": "line", "strokeWidth": 1.4, "clip": true}, "encoding": {"color": {"datum": "Difference", "type": "nominal"}}},
 {"data": {"values": [{"x": 36.56, "y": 88.9, "y2": 70.4}]}, "mark": {"type": "rule", "color": "#e8141c", "strokeWidth": 2.5, "strokeDash": [6, 4]}, "encoding": {"y2": {"field": "y2"}}},
 {"data": {"values": [{"x": 37.38, "y": 83.9, "x2": 40.5, "y2": 86.9}]}, "mark": {"type": "rule", "color": "#e8141c", "strokeWidth": 2.5}, "encoding": {"x2": {"field": "x2"}, "y2": {"field": "y2"}}},
 {"data": {"values": [{"x": 40.5, "y": 86.9}]}, "mark": {"type": "point", "shape": "triangle-right", "filled": true, "size": 130, "angle": 343, "color": "#e8141c", "opacity": 1}},
 {"data": {"values": [{"x": 41.62, "y": 87.2, "t": "36.54°"}]}, "mark": {"type": "text", "align": "left", "baseline": "middle", "font": "Liberation Sans", "fontWeight": "bold", "fontSize": 20, "color": "#e8141c"}, "encoding": {"text": {"field": "t"}}},
 {"data": {"values": [{"x": 39.96, "y": 78.2, "t": "Spot 1"}]}, "mark": {"type": "text", "align": "left", "baseline": "middle", "font": "Liberation Serif", "fontSize": 34, "color": "#e52ee0"}, "encoding": {"text": {"field": "t"}}}
]
},
{
"width": 439, "height": 332,
"encoding": {
 "x": {"field": "x", "type": "quantitative", "scale": {"domain": [30, 70], "nice": false}, "axis": {"title": "2θ (°)", "values": [30,35,40,45,50,55,60,65,70], "labelExpr": "datum.value % 10 === 0 ? datum.label : ''", "tickSize": {"condition": {"test": "datum.value % 10 === 0", "value": 7}, "value": 4}}},
 "y": {"field": "y", "type": "quantitative", "scale": {"domain": [0, 100], "nice": false}, "axis": {"title": "Intensity (a.u.)"}}
},
"layer": [
 {"data": {"name": "g2"}, "mark": {"type": "line", "strokeWidth": 4, "clip": true}, "encoding": {"color": {"datum": "Experiment", "type": "nominal", "scale": {"domain": ["Experiment", "Difference", "Fitted Curve"], "range": ["#2ee82e", "#000000", "#e8141c"]}, "legend": {"title": null, "labelExpr": "datum.label === 'Difference' ? 'Fitted Curve' : datum.label === 'Fitted Curve' ? 'Difference' : datum.label", "encode": {"symbols": {"update": {"strokeWidth": {"signal": "datum.value === 'Experiment' ? 4 : 1.5"}}}}}}}},
 {"data": {"name": "f2"}, "mark": {"type": "line", "strokeWidth": 1.5, "interpolate": "monotone", "clip": true}, "encoding": {"color": {"datum": "Fitted Curve", "type": "nominal"}}},
 {"data": {"name": "d2"}, "mark": {"type": "line", "strokeWidth": 1.4, "clip": true}, "encoding": {"color": {"datum": "Difference", "type": "nominal"}}},
 {"data": {"values": [{"x": 36.28, "y": 91.0, "y2": 67.8}]}, "mark": {"type": "rule", "color": "#e8141c", "strokeWidth": 2.5, "strokeDash": [6, 4]}, "encoding": {"y2": {"field": "y2"}}},
 {"data": {"values": [{"x": 36.98, "y": 80.4, "x2": 39.95, "y2": 83.4}]}, "mark": {"type": "rule", "color": "#e8141c", "strokeWidth": 2.5}, "encoding": {"x2": {"field": "x2"}, "y2": {"field": "y2"}}},
 {"data": {"values": [{"x": 39.95, "y": 83.4}]}, "mark": {"type": "point", "shape": "triangle-right", "filled": true, "size": 130, "angle": 343, "color": "#e8141c", "opacity": 1}},
 {"data": {"values": [{"x": 41.08, "y": 83.9, "t": "36.31°"}]}, "mark": {"type": "text", "align": "left", "baseline": "middle", "font": "Liberation Sans", "fontWeight": "bold", "fontSize": 20, "color": "#e8141c"}, "encoding": {"text": {"field": "t"}}},
 {"data": {"values": [{"x": 39.2, "y": 75.0, "t": "Spot 2"}]}, "mark": {"type": "text", "align": "left", "baseline": "middle", "font": "Liberation Serif", "fontSize": 34, "color": "#e52ee0"}, "encoding": {"text": {"field": "t"}}}
]
},
{
"width": 439, "height": 332,
"encoding": {
 "x": {"field": "x", "type": "quantitative", "scale": {"domain": [30, 70], "nice": false}, "axis": {"title": "2θ (°)", "values": [30,35,40,45,50,55,60,65,70], "labelExpr": "datum.value % 10 === 0 ? datum.label : ''", "tickSize": {"condition": {"test": "datum.value % 10 === 0", "value": 7}, "value": 4}}},
 "y": {"field": "y", "type": "quantitative", "scale": {"domain": [0, 100], "nice": false}, "axis": {"title": "Intensity (a.u.)"}}
},
"layer": [
 {"data": {"name": "g3"}, "mark": {"type": "line", "strokeWidth": 4, "clip": true}, "encoding": {"color": {"datum": "Experiment", "type": "nominal", "scale": {"domain": ["Experiment", "Fitted Curve", "Difference"], "range": ["#2ee82e", "#e8141c", "#000000"]}, "legend": {"title": null, "encode": {"symbols": {"update": {"strokeWidth": {"signal": "datum.value === 'Experiment' ? 4 : 1.5"}}}}}}}},
 {"data": {"name": "f3"}, "mark": {"type": "line", "strokeWidth": 1.5, "interpolate": "monotone", "clip": true}, "encoding": {"color": {"datum": "Fitted Curve", "type": "nominal"}}},
 {"data": {"name": "d3"}, "mark": {"type": "line", "strokeWidth": 1.4, "clip": true}, "encoding": {"color": {"datum": "Difference", "type": "nominal"}}},
 {"data": {"values": [{"x": 36.55, "y": 91.5, "y2": 68.8}]}, "mark": {"type": "rule", "color": "#e8141c", "strokeWidth": 2.5, "strokeDash": [6, 4]}, "encoding": {"y2": {"field": "y2"}}},
 {"data": {"values": [{"x": 37.22, "y": 80.9, "x2": 40.44, "y2": 85.0}]}, "mark": {"type": "rule", "color": "#e8141c", "strokeWidth": 2.5}, "encoding": {"x2": {"field": "x2"}, "y2": {"field": "y2"}}},
 {"data": {"values": [{"x": 40.44, "y": 85.0}]}, "mark": {"type": "point", "shape": "triangle-right", "filled": true, "size": 130, "angle": 339, "color": "#e8141c", "opacity": 1}},
 {"data": {"values": [{"x": 41.29, "y": 85.2, "t": "36.51°"}]}, "mark": {"type": "text", "align": "left", "baseline": "middle", "font": "Liberation Sans", "fontWeight": "bold", "fontSize": 20, "color": "#e8141c"}, "encoding": {"text": {"field": "t"}}},
 {"data": {"values": [{"x": 40.08, "y": 76.6, "t": "Spot 5"}]}, "mark": {"type": "text", "align": "left", "baseline": "middle", "font": "Liberation Serif", "fontSize": 34, "color": "#e52ee0"}, "encoding": {"text": {"field": "t"}}}
]
},
{
"width": 440, "height": 332,
"encoding": {
 "x": {"field": "x", "type": "quantitative", "scale": {"domain": [33, 40], "nice": false}, "axis": {"title": "2θ (°)", "values": [33,34,35,36,37,38,39,40], "labelExpr": "datum.value % 2 === 0 ? datum.label : ''", "tickSize": {"condition": {"test": "datum.value % 2 === 0", "value": 7}, "value": 4}}},
 "y": {"field": "y", "type": "quantitative", "scale": {"domain": [0, 100], "nice": false}, "axis": {"title": "Intensity (a.u.)"}}
},
"layer": [
 {"data": {"name": "g4"}, "mark": {"type": "line", "strokeWidth": 4, "clip": true}, "encoding": {"detail": {"field": "s"}, "color": {"datum": "Experiemnt", "type": "nominal", "scale": {"domain": ["Experiemnt", "Fitted Curve"], "range": ["#2ee82e", "#e8141c"]}, "legend": {"title": null, "encode": {"symbols": {"update": {"strokeWidth": {"signal": "datum.value === 'Experiemnt' ? 4 : 1.5"}}}}}}}},
 {"data": {"name": "f4"}, "mark": {"type": "line", "strokeWidth": 1.5, "interpolate": "monotone", "clip": true}, "encoding": {"detail": {"field": "s"}, "color": {"datum": "Fitted Curve", "type": "nominal"}}},
 {"data": {"values": [{"x": 36.53, "y": 89.4, "y2": 69.8}, {"x": 36.34, "y": 71.9, "y2": 49.2}, {"x": 36.53, "y": 50.8, "y2": 31.7}]}, "mark": {"type": "rule", "color": "#e8141c", "strokeWidth": 2.5, "strokeDash": [7, 5]}, "encoding": {"y2": {"field": "y2"}}},
 {"data": {"values": [{"x": 36.30, "y": 78.4, "x2": 35.67, "y2": 81.3}, {"x": 36.38, "y": 59.8, "x2": 36.92, "y2": 60.4}, {"x": 36.62, "y": 38.2, "x2": 37.07, "y2": 30.95}]}, "mark": {"type": "rule", "color": "#e8141c", "strokeWidth": 1.5}, "encoding": {"x2": {"field": "x2"}, "y2": {"field": "y2"}}},
 {"data": {"values": [{"x": 35.67, "y": 81.3}]}, "mark": {"type": "point", "shape": "triangle-right", "filled": true, "size": 60, "angle": 194, "color": "#e8141c", "opacity": 1}},
 {"data": {"values": [{"x": 36.92, "y": 60.4}]}, "mark": {"type": "point", "shape": "triangle-right", "filled": true, "size": 60, "angle": 356, "color": "#e8141c", "opacity": 1}},
 {"data": {"values": [{"x": 37.07, "y": 30.95}]}, "mark": {"type": "point", "shape": "triangle-right", "filled": true, "size": 60, "angle": 40, "color": "#e8141c", "opacity": 1}},
 {"data": {"values": [{"x": 35.1, "y": 81.4, "t": "36.54°"}, {"x": 37.44, "y": 60.5, "t": "36.31°"}, {"x": 37.19, "y": 26.1, "t": "36.51°"}]}, "mark": {"type": "text", "align": "center", "baseline": "middle", "font": "Liberation Sans", "fontWeight": "bold", "fontSize": 17, "color": "#e8141c"}, "encoding": {"text": {"field": "t"}}},
 {"data": {"values": [{"x": 33.04, "y": 60.3, "t": "Spot 1"}, {"x": 33.06, "y": 36.7, "t": "Spot 2"}, {"x": 35.18, "y": 19.1, "t": "Spot 5"}]}, "mark": {"type": "text", "align": "left", "baseline": "middle", "font": "Liberation Serif", "fontSize": 34, "color": "#e52ee0"}, "encoding": {"text": {"field": "t"}}}
]
}
],
"config": {
 "view": {"stroke": "#000000", "strokeWidth": 1.5},
 "axisX": {"domain": false, "grid": false, "ticks": true, "tickColor": "#000000", "tickWidth": 1.5, "labelFont": "Liberation Sans", "labelFontWeight": "bold", "labelFontSize": 20, "labelColor": "#000000", "labelPadding": 3, "labelFlush": false, "labelOverlap": false, "labelBound": false, "titleFont": "Liberation Sans", "titleFontWeight": "bold", "titleFontSize": 27, "titleColor": "#000000", "titlePadding": 6},
 "axisY": {"domain": false, "grid": false, "ticks": false, "labels": false, "titleFont": "DejaVu Sans", "titleFontWeight": "bold", "titleFontSize": 23, "titleColor": "#000000", "titlePadding": 31},
 "legend": {"orient": "top-right", "offset": 6, "padding": 4, "strokeColor": "#333333", "fillColor": "#ffffff", "labelFont": "Liberation Sans", "labelFontSize": 17, "labelFontWeight": "bold", "labelColor": "#000000", "symbolType": "stroke", "symbolSize": 1600, "symbolOffset": 10, "rowPadding": 4, "labelOffset": 23}
}
}
